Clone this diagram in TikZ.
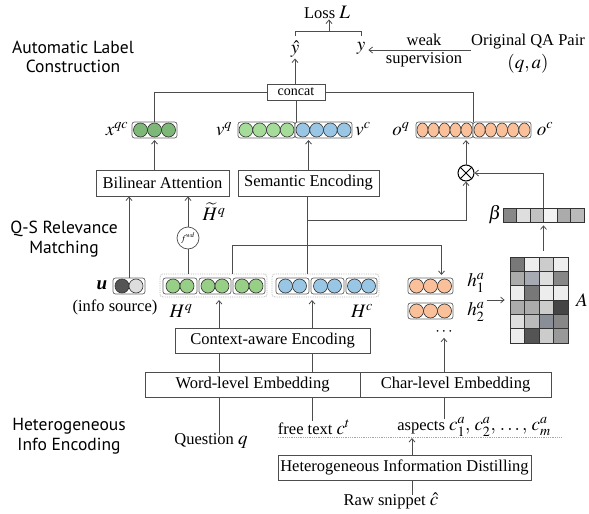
\documentclass[tikz,border=0pt]{standalone}
\usepackage{mathptmx}
\usepackage[no-math]{fontspec}
\setmainfont{Liberation Serif}
\newfontfamily\secfont{PT Sans}
\usetikzlibrary{arrows.meta,calc}

\definecolor{linec}{HTML}{4D4D4D}
\definecolor{greenD}{HTML}{7DB879}
\definecolor{greenL}{HTML}{A6DC9A}
\definecolor{greenH}{HTML}{98CF86}
\definecolor{blueC}{HTML}{98C6E4}
\definecolor{orangeC}{HTML}{F9C09A}
\definecolor{uDark}{HTML}{555555}
\definecolor{uLight}{HTML}{DDDDDD}
\definecolor{cbA}{HTML}{A7AAB2}
\definecolor{cbB}{HTML}{8A8E97}

\tikzset{
  ln/.style={draw=linec, line width=0.8pt},
  arr/.style={ln, -{Straight Barb[length=3.5pt,width=6pt]}},
  box/.style={draw=linec, line width=0.8pt, fill=white, inner sep=0pt,
    minimum height=26pt, font=\fontsize{16.5}{19}\selectfont},
  lbl/.style={inner sep=0pt, font=\fontsize{16.5}{19}\selectfont},
  mlbl/.style={inner sep=0pt, font=\fontsize{19}{22}\selectfont},
  sec/.style={inner sep=0pt, align=center, font=\secfont\fontsize{17.5}{19.5}\selectfont},
  vecbox/.style={draw=gray!80!black, line width=0.7pt, rounded corners=2.5pt,
    fill=white, inner sep=0pt, outer sep=0pt},
  dotc/.style={draw=gray!40!black, line width=0.6pt},
  groupbox/.style={draw=gray!60, densely dotted, line width=0.8pt,
    rounded corners=3pt, inner sep=0pt, outer sep=0pt},
  cell/.style={draw=black!80, line width=0.7pt},
}

% a row of touching circles in a rounded box:
% name, left x, right x, centre y, count, fill, height
\newcommand{\dotrow}[7]{%
  \node[vecbox, minimum width={#3-#2}, minimum height={#7}] (#1) at ({(#2+#3)/2},#4) {};
  \pgfmathsetmacro\dotry{(#7-2)/2}
  \pgfmathsetmacro\dotrx{min((#3-#2-2)/(2*#5),\dotry)}
  \foreach \k in {1,...,#5}{%
    \draw[dotc, fill=#6] ({(#2+#3)/2+(\k-(#5+1)/2)*2*\dotrx},#4)
      ellipse[x radius=\dotrx pt, y radius=\dotry pt];}%
}

\begin{document}
\begin{tikzpicture}[x=1pt,y=-1pt]
\useasboundingbox (0,0) rectangle (589,514);

% ---------------- section labels ----------------
\node[sec] (secA) at (73,57) {Automatic Label\\Construction};
\node[sec] (secB) at (64,239) {Q-S Relevance\\Matching};
\node[sec] (secC) at (69,436) {Heterogeneous\\Info Encoding};

% ---------------- loss and labels ----------------
\node[lbl] (loss) at (327,12) {Loss \fontsize{19}{22}\selectfont$L$};
\node[mlbl] (yhat) at (295,49) {$\hat{y}$};
\node[mlbl] (ylab) at (361,48) {$y$};
\node[lbl] (weak) at (424,40) {weak};
\node[lbl] (supv) at (424,60) {supervision};
\node[lbl] (orig) at (528,42) {Original QA Pair};
\node[mlbl] (qa) at (528,64) {$(q,a)$};
\coordinate (wk) at (0,50);

\node[draw=linec, line width=0.8pt, fill=white, inner sep=0pt, minimum width=58,
  minimum height=16, font=\fontsize{14}{16}\selectfont] (concat) at (296,92) {concat};

% ---------------- output vectors ----------------
\dotrow{xqc}{132}{177}{130}{3}{greenD}{16}
\dotrow{vq}{238}{295}{130}{4}{greenL}{16}
\dotrow{vc}{295}{352}{130}{4}{blueC}{16}
\dotrow{oq}{416}{473}{130}{5}{orangeC}{16}
\dotrow{oc}{473}{531}{130}{5}{orangeC}{16}
\node[mlbl] (xqcl) at (117,129) {$x^{qc}$};
\node[mlbl] (vql) at (224,129) {$v^{q}$};
\node[mlbl] (vcl) at (363,129) {$v^{c}$};
\node[mlbl] (oql) at (401,129) {$o^{q}$};
\node[mlbl] (ocl) at (545,129) {$o^{c}$};

% ---------------- encoders ----------------
\node[box, minimum width=133] (bil) at (162.5,183) {Bilinear Attention};
\node[box, minimum width=141] (sem) at (308.5,183) {Semantic Encoding};
\node[circle, draw=black, line width=1pt, minimum size=16, inner sep=0pt] (otm) at (466,173) {};
\draw[line width=1pt] (otm.north west) -- (otm.south east) (otm.north east) -- (otm.south west);

\node[circle, draw=linec, line width=0.7pt, minimum size=22, inner sep=0pt,
  font=\fontsize{9}{10}\selectfont, fill=white] (fwd) at (188,238) {$f^{wd}$};
\node[mlbl] (htl) at (214,212) {$\widetilde{H}^{q}$};

% ---------------- beta and attention matrix ----------------
\node[mlbl] (betal) at (495,215) {$\beta$};
\node[cell, minimum width=81, minimum height=14, inner sep=0pt] (beta) at (543.5,215) {};
\foreach \i/\g in {0/black!47, 1/black!13, 2/black!24, 3/black!5, 4/black!33, 5/black!27}
  \filldraw[cell, fill=\g] ({503+\i*13.5},208) rectangle ++(13.5,14);

\node[cell, minimum width=58, minimum height=86, inner sep=0pt] (A) at (539,300) {};
\foreach \c/\r/\g in {
  0/0/black!53, 1/0/black!7, 2/0/black!20, 3/0/black!7,
  0/1/black!33, 1/1/cbA, 2/1/black!13, 3/1/black!47,
  0/2/black!7, 1/2/black!53, 2/2/black!7, 3/2/black!7,
  0/3/black!33, 1/3/black!33, 2/3/black!20, 3/3/black!73,
  0/4/black!13, 1/4/black!27, 2/4/cbB, 3/4/black!47,
  0/5/black!7, 1/5/black!67, 2/5/black!20, 3/5/black!40}
  \filldraw[cell, fill=\g] ({510+\c*14.5},{257+\r*14.33}) rectangle ++(14.5,14.33);
\node[mlbl] (Al) at (582,300) {$A$};

% ---------------- hidden states ----------------
\node[vecbox, minimum width=32, minimum height=16] (u) at (129,286) {};
\draw[dotc, fill=uDark] (122,286) circle[radius=7pt];
\draw[dotc, fill=uLight] (136,286) circle[radius=7pt];
\node[mlbl] (ul) at (102,285) {\textbf{\textit{u}}};
\node[lbl] (infol) at (115,307) {(info source)};

\node[groupbox, minimum width=107, minimum height=23] (hq) at (213.5,285.5) {};
\dotrow{hqa}{163}{197}{286}{2}{greenH}{16}
\dotrow{hqb}{199}{231}{286}{2}{greenH}{16}
\dotrow{hqc}{233}{265}{286}{2}{greenH}{16}
\node[groupbox, minimum width=107, minimum height=23] (hc) at (325.5,285.5) {};
\dotrow{hca}{276}{309}{286}{2}{blueC}{16}
\dotrow{hcb}{311}{344}{286}{2}{blueC}{16}
\dotrow{hcc}{346}{377}{286}{2}{blueC}{16}
\node[mlbl] (hql) at (181,311) {$H^{q}$};
\node[mlbl] (hcl) at (362,311) {$H^{c}$};

\dotrow{h1}{408}{453}{286}{3}{orangeC}{16}
\dotrow{h2}{408}{453}{311}{3}{orangeC}{16}
\node[mlbl] (h1l) at (476,283) {$h_1^{a}$};
\node[mlbl] (h2l) at (476,312) {$h_2^{a}$};
\node[lbl] (dots) at (444,332) {$\cdots$};

% ---------------- embedding layers ----------------
\node[box, minimum width=195, minimum height=25] (ctx) at (272.5,340.5) {Context-aware Encoding};
\node[box, minimum width=215, minimum height=25] (word) at (252.5,384.5) {Word-level Embedding};
\node[box, minimum width=191, minimum height=25] (char) at (455.5,384.5) {Char-level Embedding};

% ---------------- inputs ----------------
\node[lbl] (question) at (211,441) {Question \fontsize{19}{22}\selectfont$q$};
\node[lbl] (free) at (314,427) {free text \fontsize{19}{22}\selectfont$c^{t}$};
\node[lbl] (aspects) at (474,427) {aspects \fontsize{19}{22}\selectfont$c_1^{a},\,c_2^{a},\,\ldots,\,c_m^{a}$};
\node[box, minimum width=253, minimum height=25] (hid) at (404.5,467.5) {Heterogeneous Information Distilling};
\node[lbl] (raw) at (391,501) {Raw snippet \fontsize{19}{22}\selectfont$\hat{c}$};

% ---------------- helper columns ----------------
\coordinate (brk) at (327,31);
\coordinate (hsplit) at (232,245);
\coordinate (sj) at (307,220);
\coordinate (qcol) at (219,0);
\coordinate (ccol) at (312,0);
\coordinate (hcol) at (412,0);
\coordinate (dl) at (278,437);
\coordinate (dr) at (561,437);

% ---------------- connectors ----------------
\draw[ln] ($(yhat |- brk)+(0,5)$) -- (yhat |- brk) -- (ylab |- brk) -- ++(0,5);
\draw[arr] ([xshift=2pt]loss.south |- brk) -- ([xshift=2pt,yshift=-1pt]loss.south);
\draw[arr, shorten >=1pt] (concat.north -| yhat) -- (yhat.south);
\draw[arr] (orig.west |- wk) -- ([xshift=3pt]ylab.east |- wk);

\draw[ln] (concat.west) -| (xqc.north);
\draw[ln] (concat.east) -| (oq.north east);
\draw[ln] (concat.south) -- (concat.south |- vq.north);

\draw[arr] (xqc.south |- bil.north) -- ([yshift=-2pt]xqc.south);
\draw[arr] (sem.north) -- ([yshift=-2pt]sem.north |- vq.south);
\draw[arr] (otm.north) -- ([yshift=-2pt]otm.north |- oq.south);
\draw[arr] (beta.north) |- (otm.east);
\draw[arr] ([yshift=6pt]beta.south |- A.north) -- ([yshift=-3pt]beta.south);
\draw[arr] ([xshift=-23pt]A.west) -- ([xshift=-5pt]A.west);

\draw[arr] (u.north) -- (u.north |- bil.south);
\draw[ln] (fwd.south |- hq.north) -- (fwd.south);
\draw[arr] (fwd.north) -- (fwd.north |- bil.south);
\draw[arr] (hsplit |- hq.north) -- (hsplit) -| ([xshift=11pt,yshift=3pt]h1.north);
\draw[ln] (sj |- hc.north) -- (sj |- sem.south);
\draw[arr] (sj) -| (otm.south);

\draw[arr] (qcol |- ctx.north) -- ([yshift=-3pt]qcol |- hq.south);
\draw[arr] (ccol |- ctx.north) -- ([yshift=-3pt]ccol |- hc.south);
\draw[ln] (qcol |- word.north) -- (qcol |- ctx.south);
\draw[ln] (ccol |- word.north) -- (ccol |- ctx.south);
\draw[ln] (qcol |- word.south) -- ([yshift=-2pt]qcol |- question.north);
\draw[ln] (ccol |- word.south) -- ([yshift=-2pt]ccol |- free.north);
\draw[arr] (dots.south |- char.north) -- ([yshift=-2pt]dots.south);
\draw[ln] (dots.south |- char.south) -- ([yshift=-2pt]dots.south |- aspects.north);

\draw[gray!70, densely dotted, line width=0.8pt] (dl) -- (dr);
\draw[arr] (hcol |- hid.north) -- ([yshift=-1pt]hcol |- dl);
\draw[ln] (hcol |- hid.south) -- ([yshift=-2pt]hcol |- raw.north);
\end{tikzpicture}
\end{document}
